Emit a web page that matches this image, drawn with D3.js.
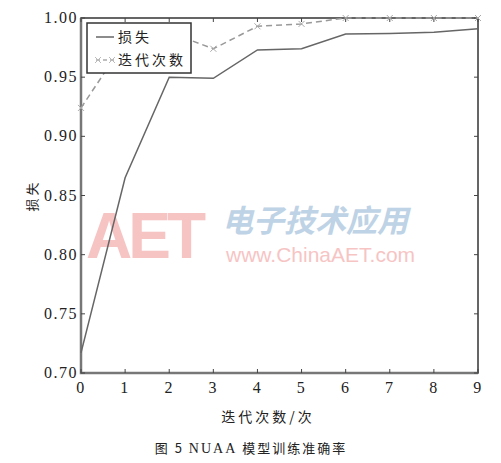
<!DOCTYPE html>
<html lang="zh">
<head>
<meta charset="UTF-8">
<script src="https://d3js.org/d3.v7.min.js"></script>
<style>
  body { margin: 0; background: #fff; }
  svg { display: block; }
  .num { font-family: "Liberation Serif", "DejaVu Serif", serif; font-size: 16px; fill: #222; letter-spacing: 1.5px; }
  .cjk { font-family: "Noto Sans CJK SC", sans-serif; fill: #222; }
</style>
</head>
<body>
<script>
// data
const epochs = [0, 1, 2, 3, 4, 5, 6, 7, 8, 9];
const lossValues = [0.717, 0.865, 0.950, 0.949, 0.973, 0.974, 0.9865, 0.987, 0.988, 0.991];
const iterValues = [0.924, 0.980, 0.988, 0.974, 0.993, 0.995, 1.0, 1.0, 1.0, 1.0];
const yTicks = [0.70, 0.75, 0.80, 0.85, 0.90, 0.95, 1.00];
const seriesNames = ["损失", "迭代次数"];

const width = 501, height = 463;
const svg = d3.select("body").append("svg")
    .attr("width", width)
    .attr("height", height);

const x = d3.scaleLinear().domain([0, 9]).range([81, 478]);
const y = d3.scaleLinear().domain([0.7, 1.0]).range([373, 18]);

// watermark
const wm = svg.append("g").attr("opacity", 0.5);
wm.append("text")
    .attr("x", 86).attr("y", 258)
    .attr("font-family", "Liberation Sans, sans-serif")
    .attr("font-size", 64).attr("font-weight", "bold")
    .attr("fill", "#f08a8a").attr("letter-spacing", -4)
    .text("AET");
wm.append("text")
    .attr("x", 222).attr("y", 232)
    .attr("font-family", "Noto Sans CJK SC, sans-serif")
    .attr("font-size", 31).attr("font-weight", "bold")
    .attr("fill", "#7fa8cc").attr("font-style", "italic")
    .text("电子技术应用");
wm.append("text")
    .attr("x", 226).attr("y", 262)
    .attr("font-family", "Liberation Sans, sans-serif")
    .attr("font-size", 21)
    .attr("fill", "#f08a8a")
    .text("www.ChinaAET.com");

// frame
svg.append("rect")
    .attr("x", x(0)).attr("y", y(1))
    .attr("width", x(9) - x(0)).attr("height", y(0.7) - y(1))
    .attr("fill", "none").attr("stroke", "#333").attr("stroke-width", 1.5);
// thick gray left/bottom axis
svg.append("path")
    .attr("d", `M${x(0)},${y(1)}V${y(0.7)}H${x(9)}`)
    .attr("fill", "none").attr("stroke", "#777").attr("stroke-width", 2.5);

// ticks (inside)
const tickG = svg.append("g").attr("stroke", "#444").attr("stroke-width", 1);
epochs.forEach(d => {
    tickG.append("line").attr("x1", x(d)).attr("x2", x(d)).attr("y1", y(0.7)).attr("y2", y(0.7) - 4);
    tickG.append("line").attr("x1", x(d)).attr("x2", x(d)).attr("y1", y(1)).attr("y2", y(1) + 4);
});
yTicks.forEach(d => {
    tickG.append("line").attr("x1", x(0)).attr("x2", x(0) + 4).attr("y1", y(d)).attr("y2", y(d));
    tickG.append("line").attr("x1", x(9)).attr("x2", x(9) - 4).attr("y1", y(d)).attr("y2", y(d));
});

// tick labels
svg.append("g").selectAll("text").data(yTicks).join("text")
    .attr("class", "num")
    .attr("x", x(0) - 3).attr("y", d => y(d) + 5)
    .attr("text-anchor", "end")
    .text(d3.format(".2f"));
svg.append("g").selectAll("text").data(epochs).join("text")
    .attr("class", "num")
    .attr("x", d => x(d)).attr("y", 393)
    .attr("text-anchor", "middle")
    .text(d => d);

// lines
const line = d3.line().x((d, i) => x(epochs[i])).y(d => y(d));
svg.append("path").datum(iterValues)
    .attr("d", line).attr("fill", "none")
    .attr("stroke", "#999").attr("stroke-width", 1.5).attr("stroke-dasharray", "6,4");
svg.append("g").selectAll("path").data(iterValues).join("path")
    .attr("transform", (d, i) => `translate(${x(epochs[i])},${y(d)})`)
    .attr("d", "M-3,-3L3,3M-3,3L3,-3")
    .attr("stroke", "#aaa").attr("stroke-width", 1);
svg.append("path").datum(lossValues)
    .attr("d", line).attr("fill", "none")
    .attr("stroke", "#666").attr("stroke-width", 1.5);

// legend
const lg = svg.append("g");
lg.append("rect")
    .attr("x", 87).attr("y", 23).attr("width", 104).attr("height", 50)
    .attr("fill", "#fff").attr("stroke", "#333").attr("stroke-width", 1.5);
lg.append("line").attr("x1", 96).attr("x2", 114).attr("y1", 37).attr("y2", 37)
    .attr("stroke", "#666").attr("stroke-width", 1.5);
lg.append("line").attr("x1", 96).attr("x2", 114).attr("y1", 60).attr("y2", 60)
    .attr("stroke", "#aaa").attr("stroke-width", 1.5).attr("stroke-dasharray", "4,3");
[98, 112].forEach(cx => lg.append("path")
    .attr("transform", `translate(${cx},60)`)
    .attr("d", "M-3,-3L3,3M-3,3L3,-3")
    .attr("stroke", "#bbb").attr("stroke-width", 1));
lg.selectAll("text.leg").data(seriesNames).join("text")
    .attr("class", "cjk leg")
    .attr("x", 118).attr("y", (d, i) => 42 + i * 23)
    .attr("font-size", 14).attr("letter-spacing", 3)
    .text(d => d);

// axis titles
svg.append("text").attr("class", "cjk")
    .attr("transform", `translate(37,${(y(1) + y(0.7)) / 2}) rotate(-90)`)
    .attr("text-anchor", "middle").attr("font-size", 13).attr("letter-spacing", 3)
    .text("损失");
svg.append("text").attr("class", "cjk")
    .attr("x", 268).attr("y", 422)
    .attr("text-anchor", "middle").attr("font-size", 14).attr("letter-spacing", 3)
    .text("迭代次数/次");

// caption
const cap = svg.append("text").attr("class", "cjk")
    .attr("x", 251).attr("y", 453).attr("text-anchor", "middle")
    .attr("font-size", 13).attr("letter-spacing", 2);
cap.append("tspan").text("图 5  ");
cap.append("tspan").attr("font-family", "Liberation Serif, serif").attr("font-size", 14).text("NUAA");
cap.append("tspan").text(" 模型训练准确率");
</script>
</body>
</html>
